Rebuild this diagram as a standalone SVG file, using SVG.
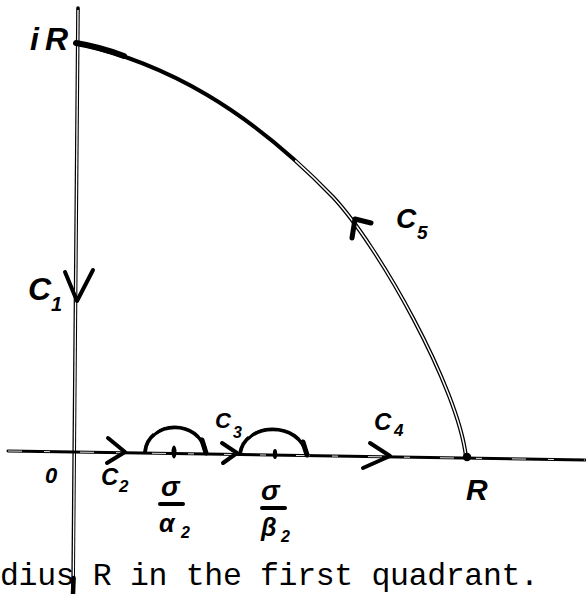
<svg xmlns="http://www.w3.org/2000/svg" width="586" height="594" viewBox="0 0 586 594">
<style>
.ink{fill:none;stroke:#000;stroke-linecap:round;stroke-linejoin:round}
.hole{fill:none;stroke:#fff;stroke-linecap:butt}
.hand{font-family:"Liberation Sans","DejaVu Sans",sans-serif;font-style:italic;font-weight:bold;fill:#000}
.cap{font-family:"Liberation Mono","DejaVu Sans Mono",monospace;font-size:31.5px;fill:#000}
</style>
<rect width="586" height="594" fill="#fff"/>
<g id="axes">
  <path class="ink" d="M78,8 L73,594" stroke-width="3.6"/>
  <path class="hole" d="M78,10 L73.3,578" stroke-width="1.3"/>
  <path class="ink" d="M73.6,578 L73,594" stroke-width="4.5"/>
  <path class="ink" d="M8,451 L585,460" stroke-width="3"/>
  <path class="hole" d="M8,451 L585,460" stroke-width="0.9" stroke-dasharray="14 22 6 30"/>
</g>
<g id="contour">
  <path class="ink" d="M76,43 C166,63 248,109 333,197 C378,245 458,387 466,457" stroke-width="4"/>
  <path class="hole" pathLength="100" d="M76,43 C166,63 248,109 333,197 C378,245 458,387 466,457" stroke-width="1.5" stroke-dasharray="0 42 58"/>
  <path class="ink" d="M76,43 Q100,47 124,56" stroke-width="6"/>
  <path class="ink" d="M145,452 C148,420 200,418 206,453" stroke-width="3.8"/>
  <path class="hole" d="M153,433 C165,420 195,420 201,437" stroke-width="1.4"/>
  <path class="ink" d="M202,440 L206,453" stroke-width="5"/>
  <path class="ink" d="M240,454 C244,422 300,420 307,455" stroke-width="3.8"/>
  <path class="hole" d="M248,436 C260,422 294,422 302,440" stroke-width="1.4"/>
  <path class="ink" d="M303,442 L307,455" stroke-width="5"/>
  <circle cx="467" cy="457" r="4.2" fill="#000"/>
  <ellipse cx="174" cy="452" rx="2.5" ry="6.5" fill="#000"/>
  <ellipse cx="275" cy="454" rx="2.2" ry="5" fill="#000"/>
</g>
<g id="arrows">
  <path class="ink" d="M65,272 L77,301 L93,270" stroke-width="4"/>
  <path class="ink" d="M108,438 L125,452 L107,463" stroke-width="4"/>
  <path class="ink" d="M222,443 L237,453 L223,463" stroke-width="4"/>
  <path class="ink" d="M370,443 L390,456 L363,468" stroke-width="4"/>
  <path class="ink" d="M352,238 L355,219 L371,223" stroke-width="5"/>
</g>
<g id="labels">
  <text class="hand" x="30" y="50" font-size="32" letter-spacing="6">iR</text>
  <text class="hand" x="28" y="300" font-size="32">C</text>
  <text class="hand" x="51" y="311" font-size="20">1</text>
  <text class="hand" x="101" y="485" font-size="24">C</text>
  <text class="hand" x="119" y="492" font-size="17">2</text>
  <text class="hand" x="215" y="428" font-size="22">C</text>
  <text class="hand" x="233" y="438" font-size="16">3</text>
  <text class="hand" x="374" y="430" font-size="24">C</text>
  <text class="hand" x="394" y="436" font-size="17">4</text>
  <text class="hand" x="396" y="228" font-size="28">C</text>
  <text class="hand" x="417" y="239" font-size="19">5</text>
  <text class="hand" x="45" y="483" font-size="22">0</text>
  <text class="hand" x="466" y="500" font-size="30">R</text>
  <text class="hand" x="161" y="496" font-size="28">σ</text>
  <path class="ink" d="M160,504 L183,504" stroke-width="4"/>
  <text class="hand" x="159" y="532" font-size="25">α</text>
  <text class="hand" x="181" y="538" font-size="16">2</text>
  <text class="hand" x="261" y="500" font-size="28">σ</text>
  <path class="ink" d="M262,508 L285,508" stroke-width="4"/>
  <text class="hand" x="261" y="536" font-size="25">β</text>
  <text class="hand" x="281" y="542" font-size="16">2</text>
  <text class="cap" x="0" y="585" textLength="539" lengthAdjust="spacing">dius R in the first quadrant.</text>
</g>
</svg>
